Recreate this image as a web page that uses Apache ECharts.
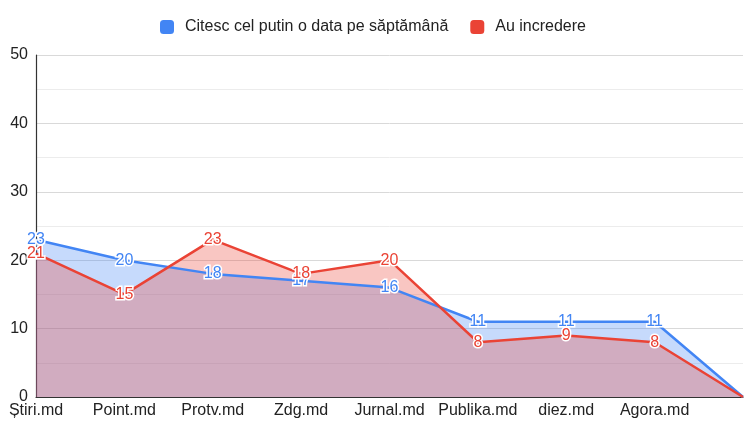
<!DOCTYPE html>
<html>
<head>
<meta charset="utf-8">
<script src="https://cdn.jsdelivr.net/npm/echarts@6/dist/echarts.min.js"></script>
<style>
  html, body { margin: 0; padding: 0; background: #fff; }
  #chart { width: 746px; height: 422px; }
</style>
</head>
<body>
<div id="chart"></div>
<script>
// date
var categories = ['Știri.md', 'Point.md', 'Protv.md', 'Zdg.md', 'Jurnal.md', 'Publika.md', 'diez.md', 'Agora.md', ''];
var weekly = [23, 20, 18, 17, 16, 11, 11, 11, 0];
var trust = [21, 15, 23, 18, 20, 8, 9, 8, 0];
var seriesNames = ['Citesc cel putin o data pe săptămână', 'Au incredere'];
var colors = ['#4285f4', '#ea4335'];

var font = '"Liberation Sans", Arial, sans-serif';

function makeSeries(name, data, color) {
    return {
        name: name,
        type: 'line',
        data: data,
        symbol: 'circle',
        symbolSize: 0,
        lineStyle: { color: color, width: 2.5 },
        itemStyle: { color: color },
        areaStyle: { color: color, opacity: 0.3 },
        label: {
            show: true,
            position: 'inside',
            color: color,
            fontFamily: font,
            fontSize: 16,
            textBorderColor: '#fff',
            textBorderWidth: 3,
            formatter: function(p) {
                return p.dataIndex === data.length - 1 ? '' : p.value;
            }
        },
        emphasis: { disabled: true }
    };
}

var chart = echarts.init(document.getElementById('chart'));
chart.setOption({
    backgroundColor: '#fff',
    animation: false,
    textStyle: { fontFamily: font },
    legend: {
        top: 14,
        left: 'center',
        itemWidth: 14,
        itemHeight: 14,
        itemGap: 22,
        icon: 'roundRect',
        textStyle: { fontSize: 16, color: '#222', fontFamily: font, padding: [0, 0, 0, 6] },
        data: seriesNames
    },
    grid: { left: 36, right: 0, top: 55, bottom: 25, containLabel: false },
    xAxis: {
        type: 'category',
        boundaryGap: false,
        data: categories,
        axisLine: { lineStyle: { color: '#333', width: 1.2 } },
        axisTick: { show: false },
        axisLabel: { interval: 0, color: '#222', fontSize: 16, margin: 6, fontFamily: font }
    },
    yAxis: {
        type: 'value',
        min: 0,
        max: 50,
        interval: 10,
        axisLine: { show: true, lineStyle: { color: '#333', width: 1.2 } },
        axisTick: { show: false },
        axisLabel: { color: '#222', fontSize: 16, margin: 8, fontFamily: font },
        splitLine: { lineStyle: { color: '#d9d9d9' } },
        minorTick: { show: false, splitNumber: 2 },
        minorSplitLine: { show: true, lineStyle: { color: '#ececec' } }
    },
    series: [
        makeSeries(seriesNames[0], weekly, colors[0]),
        makeSeries(seriesNames[1], trust, colors[1])
    ]
});
</script>
</body>
</html>
